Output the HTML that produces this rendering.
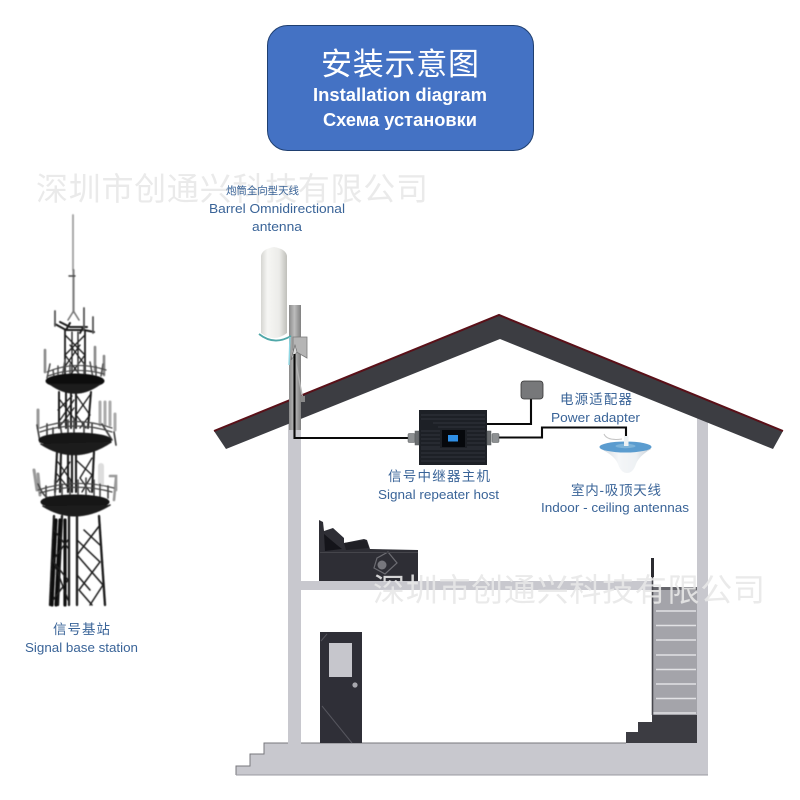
<!DOCTYPE html>
<html><head><meta charset="utf-8">
<style>
html,body{margin:0;padding:0;background:#fff;width:800px;height:800px;overflow:hidden}
svg{display:block}
.wm{font-family:"Liberation Sans","Noto Sans CJK SC",sans-serif;font-size:32px;fill:#e8e8e8;opacity:.9}
.cn{font-family:"Liberation Sans","Noto Sans CJK SC",sans-serif;font-size:13.5px;fill:#3a6498}
.en{font-family:"Liberation Sans","DejaVu Sans",sans-serif;font-size:13px;fill:#3a6498}
.t{font-family:"Liberation Sans","Noto Sans CJK SC",sans-serif;fill:#fff;text-anchor:middle}
</style></head><body>
<svg width="800" height="800" viewBox="0 0 800 800" xmlns="http://www.w3.org/2000/svg">
<defs>
<linearGradient id="cyl" x1="0" x2="1" y1="0" y2="0"><stop offset="0" stop-color="#d6d6d2"/><stop offset=".25" stop-color="#f6f6f4"/><stop offset=".7" stop-color="#ecece9"/><stop offset="1" stop-color="#bfbfba"/></linearGradient>
<linearGradient id="pole" x1="0" x2="1" y1="0" y2="0"><stop offset="0" stop-color="#8a8a8a"/><stop offset=".45" stop-color="#bdbdbd"/><stop offset="1" stop-color="#808080"/></linearGradient>
<linearGradient id="dome" x1="0" x2="1" y1="0" y2="0"><stop offset="0" stop-color="#cfd6dc"/><stop offset=".35" stop-color="#f4f6f8"/><stop offset=".7" stop-color="#eef1f4"/><stop offset="1" stop-color="#c6ced6"/></linearGradient>
<filter id="s1"><feGaussianBlur stdDeviation="0.4"/></filter>
</defs>

<!-- title -->
<rect x="267.5" y="25.5" width="266" height="125" rx="20" fill="#4472c4" stroke="#1f3f70" stroke-width="1"/>
<text class="t" x="400" y="75" font-size="31" textLength="158" lengthAdjust="spacing">安装示意图</text>
<text class="t" x="400" y="101" font-size="18" font-weight="bold" textLength="174" lengthAdjust="spacingAndGlyphs">Installation diagram</text>
<text class="t" x="400" y="126" font-size="18" font-weight="bold" textLength="154" lengthAdjust="spacingAndGlyphs">Схема установки</text>

<!-- house structure -->
<g fill="#c8c8ce">
<rect x="288" y="412" width="13" height="335"/>
<rect x="697" y="410" width="11" height="365"/>
<rect x="301" y="581" width="351" height="9"/>
<path d="M236 775V766H250V754H264V743H288V747H301V743H697V775Z"/>
</g>
<path d="M236 775V766H250V754H264V743H288M301 743H626" fill="none" stroke="#77777c" stroke-width="1"/>
<path d="M236 775H708" stroke="#9a9aa0" stroke-width="1"/>

<!-- stairs -->
<rect x="653" y="590" width="44" height="125" fill="#a4a4aa"/>
<rect x="653" y="587" width="44" height="3" fill="#66666c"/>
<g stroke="#e2e2e5" stroke-width="1.6">
<path d="M656 611H696M656 625.5H696M656 640H696M656 655H696M656 669.5H696M656 684H696M656 698.5H696M653 713H696"/>
</g>
<path d="M652.5 558V715" stroke="#48484e" stroke-width="1.6"/>
<path d="M652.5 558V577" stroke="#2b2b30" stroke-width="3"/>
<path d="M626 743V732H638V722H652V715H697V743Z" fill="#3c3c42"/>

<!-- sofa -->
<path d="M319 581V520L323 522L324 531L333 528L344 538L344 543L364 539L367 540L370 549L418 550V581Z" fill="#2e2e35"/>
<path d="M325 551L324 534L337 545L342 549Z" fill="#14141a"/>
<path d="M344 543L366 540L369 548L346 550Z" fill="#1f1f25"/>
<path d="M377 558L388 552L397 563L385 574L374 568Z" fill="none" stroke="#6c6c72" stroke-width="1.2"/>
<circle cx="382" cy="565" r="4.5" fill="#77777d"/>
<rect x="320" y="552" width="98" height="1" fill="#45454b"/>

<!-- door -->
<rect x="320" y="632" width="42" height="111" fill="#2f2f37"/>
<rect x="329" y="643" width="23" height="34" fill="#c6c6cc"/>
<circle cx="355" cy="685" r="2.6" fill="#a8a8ae"/>
<path d="M322 706L352 743M321 641L327 634" stroke="#55555d" stroke-width="1"/>

<!-- roof -->
<path d="M214 431L499 315L783 431L773 449L500 339L226 449Z" fill="#3c3d42"/>
<path d="M214 431L499 315L783 431" fill="none" stroke="#5a1018" stroke-width="2"/>
<rect x="289" y="305" width="12" height="125" fill="url(#pole)"/>

<!-- antenna -->
<path d="M261 256Q262 249 274 247Q286 249 287 256V333Q274 343 261 333Z" fill="url(#cyl)"/>
<path d="M259 334Q274 346 291 336" fill="none" stroke="#4fa7a8" stroke-width="1.8"/>
<path d="M290 337L289 365" stroke="#8fd8e4" stroke-width="1.4"/>
<path d="M293 337H307V358L293 350Z" fill="#b5b5b5" stroke="#7a7a7a" stroke-width=".8"/>
<path d="M295 345L291 360L297 352Z" fill="#d8d8d8" stroke="#666" stroke-width=".6"/>
<path d="M295 358L303 400" stroke="#b4b4b4" stroke-width="1.4"/>
<rect x="301" y="396" width="4" height="6" fill="#888"/>

<!-- cables -->
<path d="M294.5 354V438H408" fill="none" stroke="#0a0a0a" stroke-width="2.1"/>
<path d="M487 424H531V398" fill="none" stroke="#0a0a0a" stroke-width="2.1"/>
<path d="M498 437.5H542V427.5H626V436" fill="none" stroke="#0a0a0a" stroke-width="2.1"/>

<!-- repeater -->
<rect x="419" y="410" width="68" height="55" fill="#1d2026"/>
<g stroke="#383c44" stroke-width=".8">
<path d="M421 415H485M421 419H485M433 423H485M438 427H485M467 431H485M467 435H485M467 439H485M467 443H485M467 447H485M421 449H485M421 453H485M421 457H485M421 461H485M421 431H440M421 435H440M421 439H440M421 443H440M421 447H440"/>
</g>
<rect x="442" y="430" width="23" height="17" fill="#06080c"/>
<rect x="448" y="435" width="10" height="6.5" fill="#2f8fe6"/>
<g fill="#8d9092" stroke="#55585a" stroke-width=".5">
<rect x="408" y="433.5" width="7" height="9" rx="1"/><rect x="415" y="431" width="4" height="14" fill="#6a6d70"/>
<rect x="492" y="433.5" width="7" height="9" rx="1"/><rect x="487" y="431" width="4" height="14" fill="#6a6d70"/>
</g>

<!-- adapter -->
<rect x="521" y="381" width="22" height="18" rx="3" fill="#77787a" stroke="#333" stroke-width=".8"/>

<!-- ceiling antenna -->
<path d="M601 449Q615 456 618 464Q621 473 627 473Q633 473 636 464Q639 456 651 449Z" fill="url(#dome)"/>
<ellipse cx="625.5" cy="447" rx="26" ry="5.500" fill="#5b9ccf"/>
<ellipse cx="625.5" cy="446" rx="10" ry="2.200" fill="#7eb4da"/>
<rect x="624" y="436" width="4.500" height="10" fill="#eef2f4"/>
<path d="M604 434Q607 441 622 439" fill="none" stroke="#c4c4c4" stroke-width="1"/>

<!-- tower -->
<g filter="url(#s1)" fill="none" stroke="#1a1a1a" stroke-linecap="round">
<path d="M73 215V270" stroke="#a0a0a0" stroke-width="1.8"/>
<path d="M73.500 270V312" stroke="#808080" stroke-width="2.200"/>
<path d="M69 276H75" stroke="#444" stroke-width="1.400"/>
<path d="M73 312L68 320M74 312L79 320" stroke="#777" stroke-width="1.600"/>
<!-- top frame -->
<path d="M55 324L66 330H84L94 332M60 322L70 327H87M66 330L70 323M84 326L80 333" stroke-width="2"/>
<path d="M55 311V326M84 308V330M93 317V333" stroke="#555" stroke-width="1.800"/>
<!-- upper mast -->
<path d="M65 330V378M85 330V378" stroke-width="1.800"/>
<path d="M65 335L85 355L68 378M85 335L65 355L82 378M70 345L85 365M80 345L66 365M72 332V378M78 332V378" stroke-width="1.300"/>
<!-- platform 1 -->
<path d="M45 350V372M95 347V370M104 356V375" stroke="#888" stroke-width="2.600"/>
<path d="M50 364L47 378M53 370L55 384M58 366V382M65 360L62 378M70 364V380M78 362V380M84 364V382M90 362L93 378M96 366V380M103 364L101 376" stroke="#555" stroke-width="1.600"/>
<path d="M47 372Q75 360 106 370M48 376Q75 366 104 374" stroke="#444" stroke-width="1.200"/>
<ellipse cx="75" cy="381" rx="29" ry="7" fill="#111" stroke="#111"/>
<path d="M50 384Q75 402 100 384" fill="#1c1c1c" stroke-width="1.500"/>
<!-- mid mast -->
<path d="M59 392V428M91 392L88 428M66 392V428M76 392V428M71 392V428" stroke-width="2"/>
<path d="M76 395L90 415L80 428M90 395L76 415L86 428M60 400L75 420M74 400L60 420M58 410L72 396M60 426L74 408" stroke-width="1.300"/>
<!-- platform 2 -->
<path d="M38 410V428" stroke="#999" stroke-width="3"/>
<path d="M100 402V425M105 402V425M110 402V425M115 414V430" stroke="#aaa" stroke-width="3"/>
<path d="M37 425L40 442M47 424V440M53 428V442M60 424L62 436M68 420V440M74 418V440M84 424V440M92 424V440M102 424L112 440M114 432L116 445" stroke="#444" stroke-width="1.700"/>
<path d="M40 428Q75 415 112 428M40 432Q75 420 112 432" stroke="#444" stroke-width="1.200"/>
<ellipse cx="75" cy="440" rx="36" ry="7" fill="#141414" stroke="#141414"/>
<path d="M41 444Q75 466 111 442" fill="#1f1f1f" stroke-width="1.500"/>
<!-- lower mast -->
<path d="M57 452L55 492M61 452L60 492M68 452V492M72 452V492M76 452V492M94 452L92 492" stroke-width="2.100"/>
<path d="M76 460L92 475L82 492M92 458L80 478L90 492M58 462L72 482M70 462L57 482M57 474L70 490" stroke-width="1.300"/>
<!-- platform 3 -->
<path d="M34 470L37 490M38 474L40 495" stroke="#999" stroke-width="3"/>
<path d="M101 466V485" stroke="#ddd" stroke-width="6"/>
<path d="M110 476L116 476V490M116 478L114 500" stroke="#999" stroke-width="2.600"/>
<path d="M38 484Q45 500 50 497M46 486V498M55 480V498M62 484V498M70 480V498M78 480V498M86 478V498M94 480V498M100 484V498M108 486V498" stroke="#444" stroke-width="1.600"/>
<path d="M38 490Q75 478 114 488M40 493Q75 482 112 492" stroke="#444" stroke-width="1.200"/>
<ellipse cx="75" cy="502" rx="34" ry="7" fill="#121212" stroke="#121212"/>
<path d="M43 506Q75 526 110 505" fill="#1e1e1e" stroke-width="1.500"/>
<!-- base -->
<path d="M54 516L50 605M62 516L58 605M69 516V605M77 516V605M99 516L105 605" stroke-width="2.300"/>
<path d="M56 520L52 605M65 520V605M60 520L56 605" stroke="#111" stroke-width="3.200"/>
<path d="M77 540L100 562L79 590L92 605M100 525L77 555L103 585L90 605M77 575L90 590M100 545L84 530" stroke-width="1.500"/>
<path d="M52 560L68 580L53 600M68 540L53 560L68 600M54 530L68 548" stroke-width="1.500"/>
</g>

<!-- watermarks -->
<text class="wm" x="36" y="200" textLength="392" lengthAdjust="spacing">深圳市创通兴科技有限公司</text>
<text class="wm" x="373" y="601" textLength="392" lengthAdjust="spacing">深圳市创通兴科技有限公司</text>

<!-- labels -->
<text class="cn" x="226" y="194" textLength="73" lengthAdjust="spacing" style="font-size:10.5px">炮筒全向型天线</text>
<text class="en" x="209" y="213" textLength="136" lengthAdjust="spacingAndGlyphs">Barrel Omnidirectional</text>
<text class="en" x="252" y="231" textLength="50" lengthAdjust="spacingAndGlyphs">antenna</text>
<text class="cn" x="560" y="404" textLength="72" lengthAdjust="spacing">电源适配器</text>
<text class="en" x="551" y="422" textLength="89" lengthAdjust="spacingAndGlyphs">Power adapter</text>
<text class="cn" x="388" y="481" textLength="102" lengthAdjust="spacing">信号中继器主机</text>
<text class="en" x="378" y="499" textLength="121" lengthAdjust="spacingAndGlyphs">Signal repeater host</text>
<text class="cn" x="571" y="495" textLength="90" lengthAdjust="spacing">室内-吸顶天线</text>
<text class="en" x="541" y="512" textLength="148" lengthAdjust="spacingAndGlyphs">Indoor - ceiling antennas</text>
<text class="cn" x="53" y="634" textLength="57" lengthAdjust="spacing">信号基站</text>
<text class="en" x="25" y="652" textLength="113" lengthAdjust="spacingAndGlyphs">Signal base station</text>
</svg>
</body></html>
